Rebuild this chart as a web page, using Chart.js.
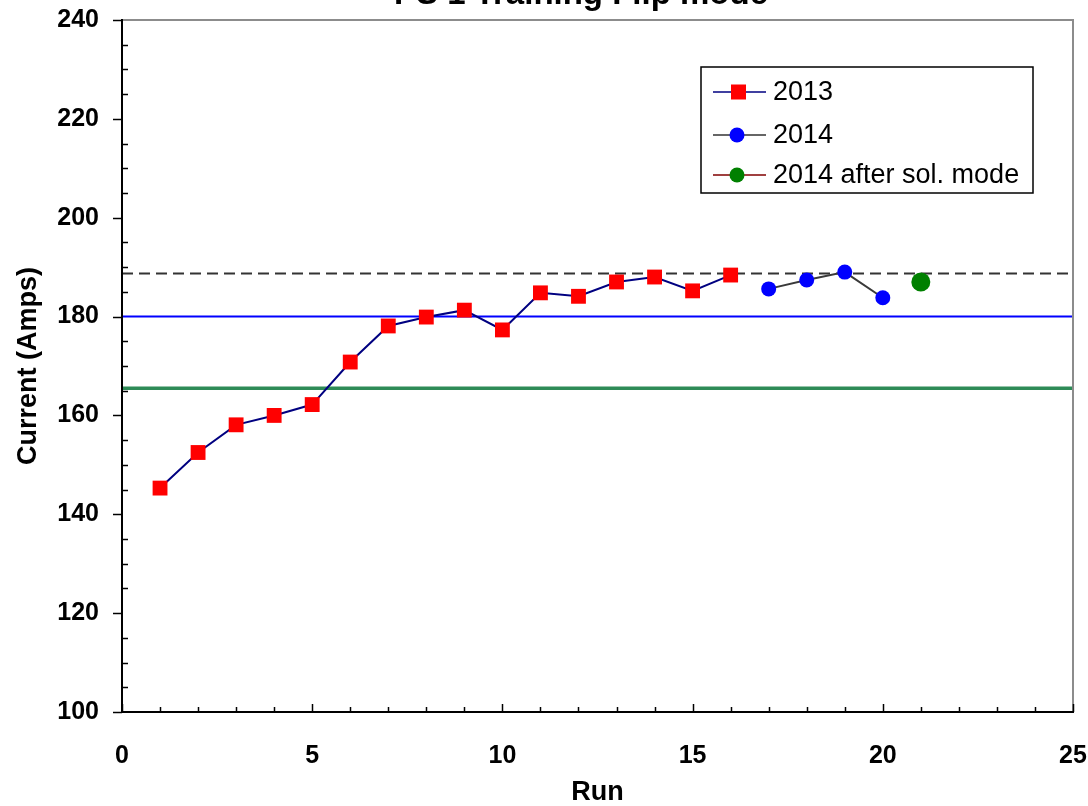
<!DOCTYPE html>
<html><head><meta charset="utf-8">
<script src="https://cdn.jsdelivr.net/npm/chart.js@4.4.1/dist/chart.umd.min.js"></script>
<style>html,body{margin:0;padding:0;background:#fff;}#wrap{width:1088px;height:806px;position:relative;}</style>
</head><body><div id="wrap"><canvas id="c" width="1088" height="806"></canvas></div>
<script>
const chartTitle = "PS 1 Training Flip mode";
const xTitle = "Run";
const yTitle = "Current (Amps)";
const runs2013 = [1,2,3,4,5,6,7,8,9,10,11,12,13,14,15,16];
const current2013 = [145.3,152.5,158.1,160.0,162.2,170.8,178.1,179.9,181.3,177.3,184.8,184.1,187.0,188.0,185.2,188.4];
const runs2014 = [17,18,19,20];
const current2014 = [185.6,187.4,189.0,183.8];
const runsAfter = [21];
const currentAfter = [187.0];
const seriesNames = ["2013","2014","2014 after sol. mode"];
const refDashed = 188.7;
const refBlue = 180;
const refGreen = 165.5;
const xRange = [0,25];
const yRange = [100,240];

const pts = (xs, ys) => xs.map((x,i)=>({x:x,y:ys[i]}));
const hline = v => [{x:xRange[0],y:v},{x:xRange[1],y:v}];
const FONT = "'Liberation Sans', Arial, sans-serif";

const extras = {
  id:'extras',
  afterDraw(chart){
    const ctx = chart.ctx, a = chart.chartArea;
    const xs = chart.scales.x, ys = chart.scales.y;
    ctx.save();
    ctx.strokeStyle = '#8c8c8c'; ctx.lineWidth = 2;
    ctx.beginPath(); ctx.moveTo(a.left, a.top); ctx.lineTo(a.right, a.top); ctx.lineTo(a.right, a.bottom); ctx.stroke();
    ctx.strokeStyle = '#000'; ctx.lineWidth = 2;
    ctx.beginPath(); ctx.moveTo(a.left, a.top-1); ctx.lineTo(a.left, a.bottom); ctx.lineTo(a.right+1, a.bottom); ctx.stroke();
    ctx.lineWidth = 1.5;
    for (let v = yRange[0]; v <= yRange[1]; v += 5) {
      const p = Math.round(ys.getPixelForValue(v)) + 0.5;
      ctx.beginPath();
      if (v % 20 === 0) { ctx.moveTo(a.left-9, p); ctx.lineTo(a.left, p); }
      else { ctx.moveTo(a.left, p); ctx.lineTo(a.left+6, p); }
      ctx.stroke();
    }
    for (let v = xRange[0]; v <= xRange[1]; v += 1) {
      const p = Math.round(xs.getPixelForValue(v)) + 0.5;
      const len = (v % 5 === 0) ? 8 : 5;
      ctx.beginPath(); ctx.moveTo(p, a.bottom); ctx.lineTo(p, a.bottom-len); ctx.stroke();
    }
    ctx.fillStyle = '#000';
    ctx.font = "bold 33px " + FONT;
    ctx.textAlign = 'center'; ctx.textBaseline = 'alphabetic';
    ctx.fillText(chartTitle, 581, 4);
    const lx = 701, ly = 67, lw = 332, lh = 126;
    ctx.fillStyle = '#fff'; ctx.fillRect(lx, ly, lw, lh);
    ctx.strokeStyle = '#000'; ctx.lineWidth = 1.5; ctx.strokeRect(lx, ly, lw, lh);
    const rows = [92, 135, 175];
    const lineCols = ['#000080', '#333333', '#800000'];
    chart.data.datasets.slice(0,3).forEach((ds, i) => {
      const y = rows[i];
      ctx.strokeStyle = lineCols[i]; ctx.lineWidth = 1.5;
      ctx.beginPath(); ctx.moveTo(713, y); ctx.lineTo(766, y); ctx.stroke();
      ctx.fillStyle = ds.pointBackgroundColor;
      if (i === 0) { ctx.fillRect(731, y-7.5, 15, 15); }
      else { ctx.beginPath(); ctx.arc(737, y, 7.5, 0, Math.PI*2); ctx.fill(); }
      ctx.fillStyle = '#000'; ctx.font = "27px " + FONT;
      ctx.textAlign = 'left'; ctx.textBaseline = 'middle';
      ctx.fillText(seriesNames[i], 773, y+1);
    });
    ctx.restore();
  }
};

new Chart(document.getElementById('c'), {
  type: 'scatter',
  data: { datasets: [
    { label: seriesNames[0], data: pts(runs2013, current2013), showLine: true, borderColor:'#000080', borderWidth:2,
      pointStyle:'rect', pointRadius:10.5, pointHoverRadius:10.5, pointBackgroundColor:'#ff0000', pointBorderColor:'#ff0000', pointBorderWidth:0, order:1 },
    { label: seriesNames[1], data: pts(runs2014, current2014), showLine: true, borderColor:'#3a3a3a', borderWidth:2,
      pointStyle:'circle', pointRadius:7.5, pointHoverRadius:7.5, pointBackgroundColor:'#0000ff', pointBorderColor:'#0000ff', pointBorderWidth:0, order:1 },
    { label: seriesNames[2], data: pts(runsAfter, currentAfter), showLine: true, borderColor:'#800000', borderWidth:2,
      pointStyle:'circle', pointRadius:9.5, pointHoverRadius:9.5, pointBackgroundColor:'#008000', pointBorderColor:'#008000', pointBorderWidth:0, order:1 },
    { label:'dashed', data: hline(refDashed), showLine:true, borderColor:'#333', borderWidth:2, borderDash:[11,6], pointRadius:0, order:3 },
    { label:'blue', data: hline(refBlue), showLine:true, borderColor:'#0000ff', borderWidth:2, pointRadius:0, order:3 },
    { label:'green', data: hline(refGreen), showLine:true, borderColor:'#2e8b57', borderWidth:3.5, pointRadius:0, order:3 }
  ]},
  options: {
    responsive:false, animation:false, devicePixelRatio:1,
    layout:{ padding:{ top:20, right:15, left:12, bottom:0 } },
    plugins:{ legend:{display:false}, title:{display:false}, tooltip:{enabled:false} },
    scales:{
      x:{ type:'linear', min:xRange[0], max:xRange[1],
        ticks:{ stepSize:5, padding:29, color:'#000', font:{family:FONT, size:25, weight:'bold'} },
        grid:{ display:false, drawTicks:false }, border:{display:false},
        title:{ display:true, text:xTitle, color:'#000', font:{family:FONT, size:27, weight:'bold', lineHeight:1.0}, padding:{top:10,bottom:0} },
        afterFit(s){ s.height = 94; s.paddingLeft = 0; s.paddingRight = 0; }
      },
      y:{ type:'linear', min:yRange[0], max:yRange[1],
        ticks:{ stepSize:20, padding:23, color:'#000', font:{family:FONT, size:25, weight:'bold'} },
        grid:{ display:false, drawTicks:false }, border:{display:false},
        title:{ display:true, text:yTitle, color:'#000', font:{family:FONT, size:27, weight:'bold'}, padding:{top:0,bottom:0} },
        afterFit(s){ s.width = 110; s.paddingTop = 0; s.paddingBottom = 0; }
      }
    }
  },
  plugins:[extras]
});
</script>
</body></html>
